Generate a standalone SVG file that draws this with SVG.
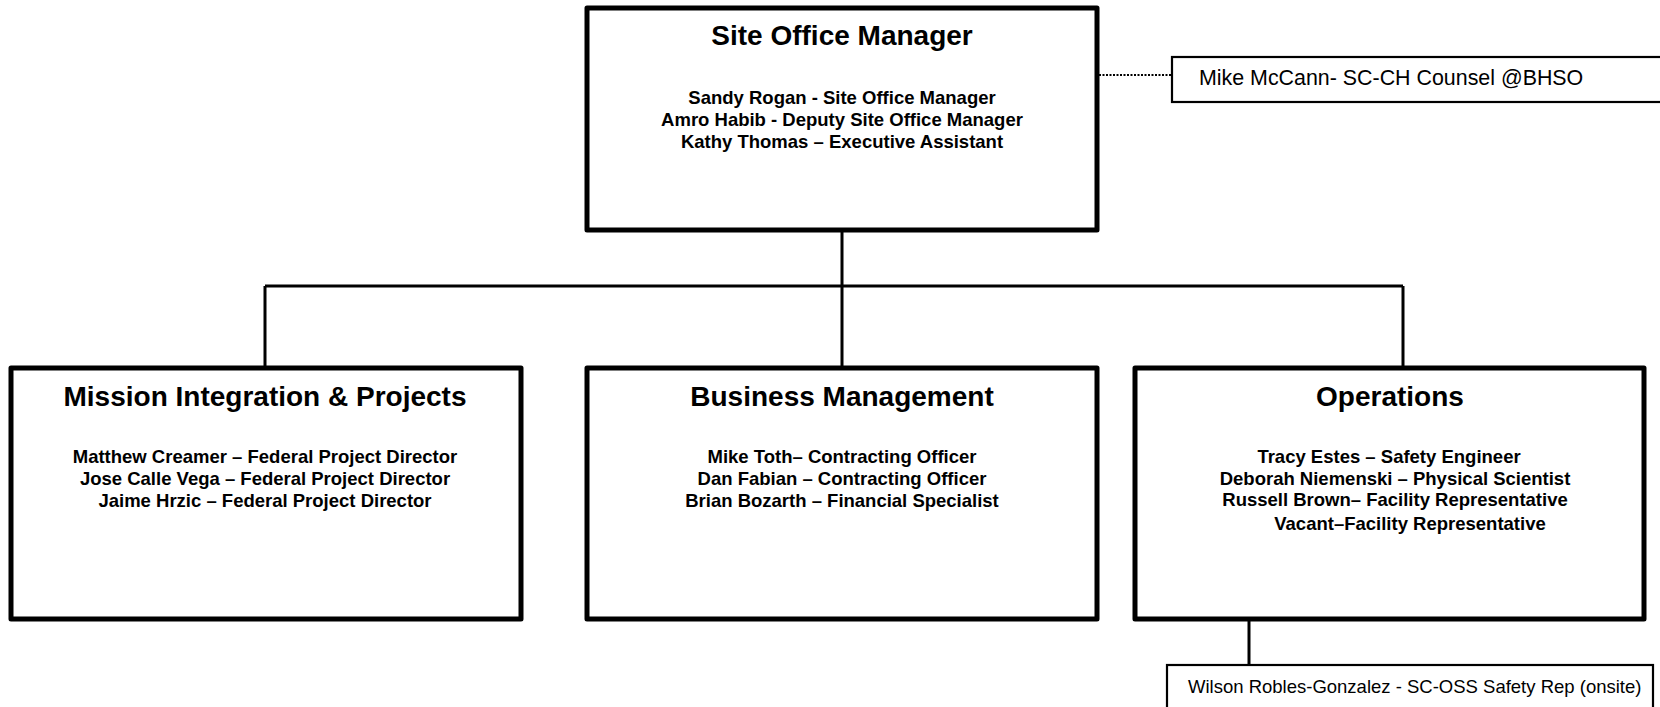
<svg xmlns="http://www.w3.org/2000/svg" width="1660" height="707" viewBox="0 0 1660 707">
<style>
.box{fill:#fff;stroke:#000;stroke-width:5;stroke-linejoin:round}
.sbox{fill:#fff;stroke:#000;stroke-width:2.2}
.conn{fill:none;stroke:#000;stroke-width:3}
.dot{fill:none;stroke:#000;stroke-width:2;stroke-dasharray:2 1.5}
text{font-family:"Liberation Sans",Arial,sans-serif;fill:#000}
.title{font-size:28px;font-weight:bold;text-anchor:middle}
.body{font-size:18.5px;font-weight:bold;text-anchor:middle}
.plain{font-size:21.4px}
.plain2{font-size:18.5px}
</style>
<rect width="1660" height="707" fill="#fff"/>
<g id="connectors">
<path class="conn" d="M842 230V286M265 286H1403M265 286V368M842 286V368M1403 286V368"/>
<path class="conn" d="M1249 619V665"/>
<path class="dot" d="M1099 75H1172"/>
</g>
<g id="site-office-manager">
<rect class="box" x="587" y="8" width="510" height="222"/>
<text class="title" x="842" y="45">Site Office Manager</text>
<text class="body" x="842" y="104">Sandy Rogan - Site Office Manager</text>
<text class="body" x="842" y="126">Amro Habib - Deputy Site Office Manager</text>
<text class="body" x="842" y="148">Kathy Thomas – Executive Assistant</text>
</g>
<g id="counsel">
<rect class="sbox" x="1172" y="57" width="500" height="45"/>
<text class="plain" x="1199" y="85">Mike McCann- SC-CH Counsel @BHSO</text>
</g>
<g id="mission-integration">
<rect class="box" x="11" y="368" width="510" height="251"/>
<text class="title" x="265" y="406">Mission Integration &amp; Projects</text>
<text class="body" x="265" y="463">Matthew Creamer – Federal Project Director</text>
<text class="body" x="265" y="485">Jose Calle Vega – Federal Project Director</text>
<text class="body" x="265" y="507">Jaime Hrzic – Federal Project Director</text>
</g>
<g id="business-management">
<rect class="box" x="587" y="368" width="510" height="251"/>
<text class="title" x="842" y="406">Business Management</text>
<text class="body" x="842" y="463">Mike Toth– Contracting Officer</text>
<text class="body" x="842" y="485">Dan Fabian – Contracting Officer</text>
<text class="body" x="842" y="507">Brian Bozarth – Financial Specialist</text>
</g>
<g id="operations">
<rect class="box" x="1135" y="368" width="509" height="251"/>
<text class="title" x="1390" y="406">Operations</text>
<text class="body" x="1389" y="463">Tracy Estes – Safety Engineer</text>
<text class="body" x="1395" y="485">Deborah Niemenski – Physical Scientist</text>
<text class="body" x="1395" y="506">Russell Brown– Facility Representative</text>
<text class="body" x="1410" y="530">Vacant–Facility Representative</text>
</g>
<g id="safety-rep">
<rect class="sbox" x="1167" y="665" width="486" height="50"/>
<text class="plain2" x="1188" y="693">Wilson Robles-Gonzalez - SC-OSS Safety Rep (onsite)</text>
</g>
</svg>
